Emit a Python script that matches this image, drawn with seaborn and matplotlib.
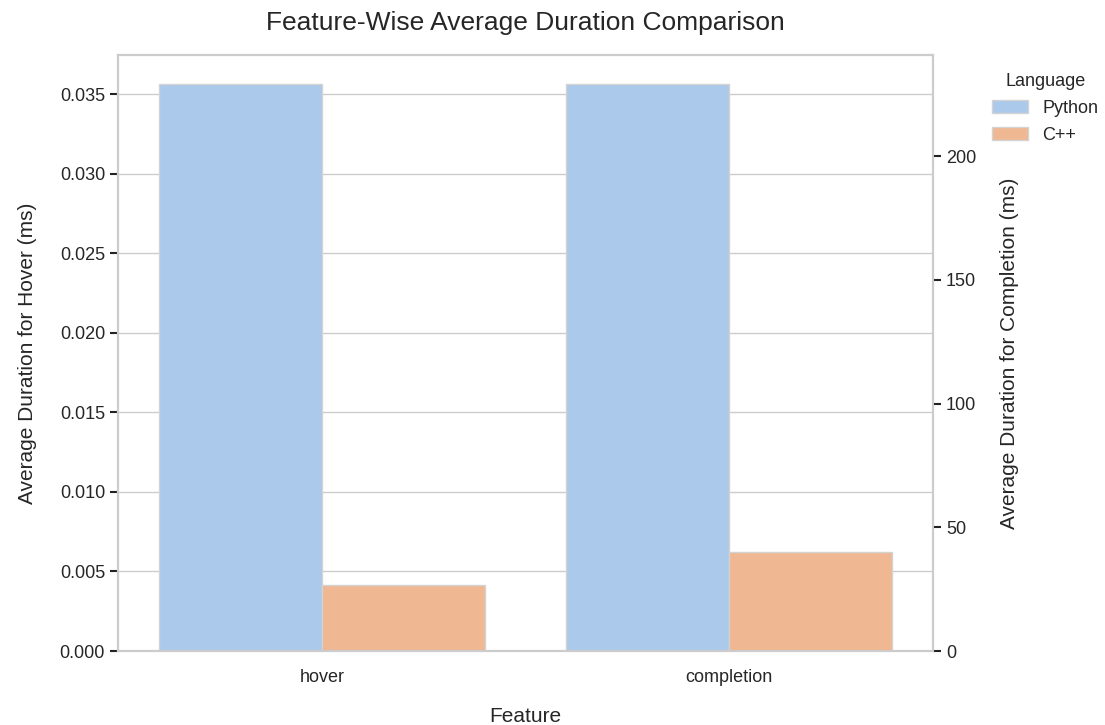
import matplotlib
matplotlib.use("Agg")
import matplotlib.pyplot as plt
import seaborn as sns
import pandas as pd

# %% data
features = ["hover", "completion"]
languages = ["Python", "C++"]
hover_ms = [0.03563, 0.00418]       # left axis
completion_ms = [229.3, 40.2]       # right axis

df = pd.DataFrame({
    "Feature": ["hover"] * 2 + ["completion"] * 2,
    "Language": languages * 2,
    "Duration": hover_ms + completion_ms,
})

# %% style
sns.set_theme(style="whitegrid", palette="pastel")
plt.rcParams["font.family"] = ["Liberation Sans", "DejaVu Sans"]

fig, ax1 = plt.subplots(figsize=(11.05, 7.25), dpi=100)
fig.subplots_adjust(left=0.107, right=0.844, top=0.924, bottom=0.102)
ax2 = ax1.twinx()

# hover on left axis, completion on right axis
sns.barplot(data=df[df["Feature"] == "hover"], x="Feature", y="Duration",
            hue="Language", hue_order=languages, order=features,
            edgecolor="lightgray", linewidth=1, ax=ax1)
sns.barplot(data=df[df["Feature"] == "completion"], x="Feature", y="Duration",
            hue="Language", hue_order=languages, order=features,
            edgecolor="lightgray", linewidth=1, ax=ax2)

ax1.set_ylim(0, 0.03745)
ax2.set_ylim(0, 240.8)
ax1.set_xlim(-0.5, 1.5)
ax2.set_xlim(-0.5, 1.5)

ax1.grid(axis="x", visible=False)
ax2.grid(False)
for ax in (ax1, ax2):
    for s in ax.spines.values():
        s.set_color("#cccccc")
        s.set_linewidth(1.5)
ax1.tick_params(axis="y", left=True, length=6, width=1.5, color="#222222", labelsize=13)
ax2.tick_params(axis="y", right=True, length=6, width=1.5, color="#222222", labelsize=13)
ax1.tick_params(axis="x", labelsize=13, pad=7)

ax1.set_xlabel("Feature", fontsize=15, labelpad=15)
ax1.set_ylabel("Average Duration for Hover (ms)", fontsize=15, labelpad=16)
ax2.set_ylabel("Average Duration for Completion (ms)", fontsize=15, labelpad=17)
ax1.set_title("Feature-Wise Average Duration Comparison", fontsize=19, pad=18)

ax2.get_legend().remove()
handles, labels = ax1.get_legend_handles_labels()
ax1.get_legend().remove()
ax2.legend(handles, labels, title="Language", loc="upper left",
           bbox_to_anchor=(1.053, 0.997), frameon=False, fontsize=13,
           title_fontsize=13, labelspacing=0.55)

plt.savefig("out.png", dpi=100)
plt.close("all")
